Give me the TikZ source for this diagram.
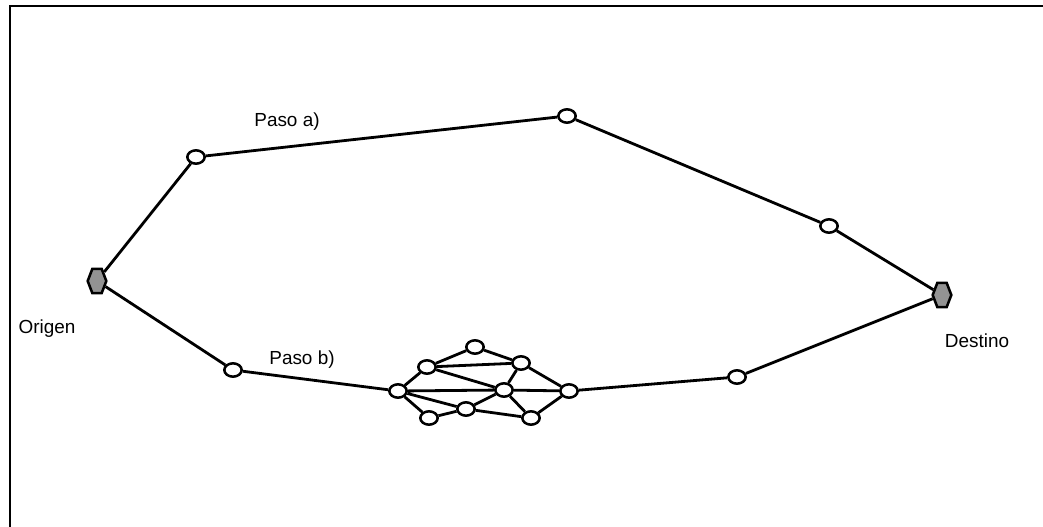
\documentclass[tikz,border=0pt]{standalone}
\usepackage{fontspec}
\setmainfont{Liberation Sans}
\usetikzlibrary{shapes.geometric}
\begin{document}
\begin{tikzpicture}[x=0.75pt,y=-0.75pt,
  hop/.style={ellipse,draw=black,line width=1.9pt,fill=white,minimum width=13pt,minimum height=10pt,inner sep=0pt},
  endpt/.style={regular polygon,regular polygon sides=6,draw=black,line width=1.9pt,fill=gray!85,minimum size=14pt,inner sep=0pt,transform shape,yscale=1.5},
  link/.style={line width=2.1pt},
  lbl/.style={font=\fontsize{14.2pt}{17pt}\selectfont,anchor=base}]
\useasboundingbox (0,0) rectangle (1043,527);
\draw[line width=1.7pt] (10,527) -- (10,6) -- (1043,6);
% end points
\node[endpt] (o) at (97,281) {};
\node[endpt] (d) at (942,295) {};
% path a
\node[hop] (a1) at (196,157) {};
\node[hop] (a2) at (567,116) {};
\node[hop] (a3) at (829,226) {};
% path b
\node[hop] (b1) at (233,370) {};
\node[hop] (b2) at (737,377) {};
% cluster
\node[hop] (c1) at (398,391) {};
\node[hop] (c2) at (427,367) {};
\node[hop] (c3) at (475,347) {};
\node[hop] (c4) at (521,363) {};
\node[hop] (c5) at (504,390) {};
\node[hop] (c6) at (569,391) {};
\node[hop] (c7) at (429,418) {};
\node[hop] (c8) at (466,409) {};
\node[hop] (c9) at (531,418) {};
\draw[link] (o) -- (a1) -- (a2) -- (a3) -- (d);
\draw[link] (o) -- (b1) -- (c1);
\draw[link] (c6) -- (b2) -- (d);
\draw[link] (c1) -- (c2) (c2) -- (c3) (c3) -- (c4) (c2) -- (c4) (c2) -- (c5)
  (c4) -- (c5) (c4) -- (c6) (c1) -- (c5) (c5) -- (c6) (c1) -- (c7) (c1) -- (c8)
  (c7) -- (c8) (c8) -- (c5) (c8) -- (c9) (c5) -- (c9) (c9) -- (c6);
% labels
\node[lbl] (la) at (287,127) {Paso a)};
\node[lbl] (lb) at (302,365) {Paso b)};
\node[lbl] (lo) at (47,334) {Origen};
\node[lbl] (ld) at (977,348) {Destino};
\end{tikzpicture}
\end{document}
